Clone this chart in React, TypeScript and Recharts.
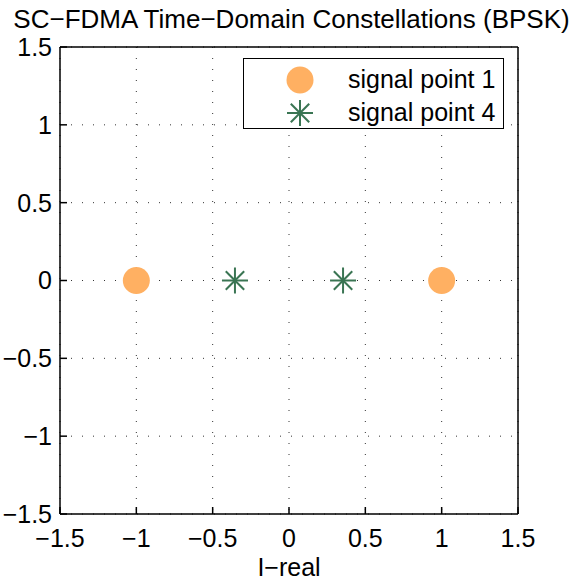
import React from 'react';
import { ScatterChart, Scatter, XAxis, YAxis, CartesianGrid, Legend } from 'recharts';

const axisTicks = [-1.5, -1, -0.5, 0, 0.5, 1, 1.5];
const signalPoint1 = [
  { x: -1, y: 0 },
  { x: 1, y: 0 },
];
const signalPoint4 = [
  { x: -0.354, y: 0 },
  { x: 0.354, y: 0 },
];
const seriesNames = ['signal point 1', 'signal point 4'];
const titleText = 'SC\u2212FDMA Time\u2212Domain Constellations (BPSK)';
const xLabelText = 'I\u2212real';

const ORANGE = '#FFB062';
const GREEN = '#3A7553';
const FONT = '"Liberation Sans", Arial, Helvetica, sans-serif';

const fmt = (v: number) => String(v).replace('-', '\u2212');

const Circle = (props: any) => {
  const { cx, cy } = props;
  if (cx == null || cy == null) return null;
  return <circle cx={cx} cy={cy} r={13.5} fill={ORANGE} />;
};

const Asterisk = (props: any) => {
  const { cx, cy } = props;
  if (cx == null || cy == null) return null;
  const r = 13;
  const d = 9.2;
  return (
    <g stroke={GREEN} strokeWidth={2}>
      <line x1={cx - r} y1={cy} x2={cx + r} y2={cy} />
      <line x1={cx} y1={cy - r} x2={cx} y2={cy + r} />
      <line x1={cx - d} y1={cy - d} x2={cx + d} y2={cy + d} />
      <line x1={cx - d} y1={cy + d} x2={cx + d} y2={cy - d} />
    </g>
  );
};

const LegendBox = () => (
  <div
    style={{
      width: 261,
      height: 71,
      boxSizing: 'border-box',
      border: '1.5px solid #000',
      background: '#fff',
      fontFamily: FONT,
      fontSize: 25,
      position: 'relative',
    }}
  >
    <svg width={110} height={71} style={{ position: 'absolute', left: 0, top: 0 }}>
      <Circle cx={56} cy={21} />
      <Asterisk cx={56} cy={54} />
    </svg>
    <div style={{ position: 'absolute', left: 104, top: 5, lineHeight: '30px', whiteSpace: 'nowrap' }}>{seriesNames[0]}</div>
    <div style={{ position: 'absolute', left: 104, top: 38, lineHeight: '30px', whiteSpace: 'nowrap' }}>{seriesNames[1]}</div>
  </div>
);

export default function App() {
  const tickStyle = { fontFamily: FONT, fontSize: 25, fill: '#000' };
  return (
    <div style={{ position: 'absolute', left: 0, top: 0, width: 573, height: 581, background: '#fff' }}>
      <div
        style={{
          position: 'absolute',
          left: 5,
          top: 4,
          width: 573,
          textAlign: 'center',
          fontFamily: FONT,
          fontSize: 26,
          lineHeight: '30px',
          whiteSpace: 'nowrap',
        }}
      >
        {titleText}
      </div>
      <div
        style={{
          position: 'absolute',
          left: 0,
          top: 555,
          width: 578,
          textAlign: 'center',
          fontFamily: FONT,
          fontSize: 25,
          lineHeight: '25px',
          whiteSpace: 'nowrap',
        }}
      >
        {xLabelText}
      </div>
      <ScatterChart width={573} height={581} margin={{ top: 46, right: 54, bottom: 37, left: 20 }}>
        <CartesianGrid xAxisId="b" yAxisId="l" stroke="#333" strokeDasharray="1 10" strokeWidth={1} />
        <XAxis
          xAxisId="b"
          type="number"
          dataKey="x"
          domain={[-1.5, 1.5]}
          ticks={axisTicks}
          tickFormatter={fmt}
          height={30}
          orientation="bottom"
          stroke="#000"
          strokeWidth={1.5}
          tickSize={-7}
          tickMargin={22}
          tick={tickStyle}
          interval={0}
          allowDataOverflow
        />
        <XAxis
          xAxisId="t"
          type="number"
          dataKey="x"
          domain={[-1.5, 1.5]}
          ticks={axisTicks}
          height={1}
          orientation="top"
          stroke="#000"
          strokeWidth={1.5}
          tickSize={-7}
          tick={false}
          interval={0}
          allowDataOverflow
        />
        <YAxis
          yAxisId="l"
          type="number"
          dataKey="y"
          domain={[-1.5, 1.5]}
          ticks={axisTicks}
          tickFormatter={fmt}
          width={40}
          orientation="left"
          stroke="#000"
          strokeWidth={1.5}
          tickSize={-7}
          tickMargin={15}
          tick={tickStyle}
          interval={0}
          allowDataOverflow
        />
        <YAxis
          yAxisId="r"
          type="number"
          dataKey="y"
          domain={[-1.5, 1.5]}
          ticks={axisTicks}
          width={1}
          orientation="right"
          stroke="#000"
          strokeWidth={1.5}
          tickSize={-7}
          tick={false}
          interval={0}
          allowDataOverflow
        />
        <Scatter
          name={seriesNames[0]}
          data={signalPoint1}
          xAxisId="b"
          yAxisId="l"
          fill={ORANGE}
          shape={Circle}
          isAnimationActive={false}
        />
        <Scatter
          name={seriesNames[1]}
          data={signalPoint4}
          xAxisId="b"
          yAxisId="l"
          fill={GREEN}
          shape={Asterisk}
          isAnimationActive={false}
        />
        <Scatter data={[]} xAxisId="t" yAxisId="r" isAnimationActive={false} legendType="none" />
        <Legend
          layout="vertical"
          align="center"
          verticalAlign="middle"
          content={LegendBox}
          wrapperStyle={{ position: 'absolute', left: 243, top: 58, width: 261, height: 71 }}
        />
      </ScatterChart>
    </div>
  );
}
